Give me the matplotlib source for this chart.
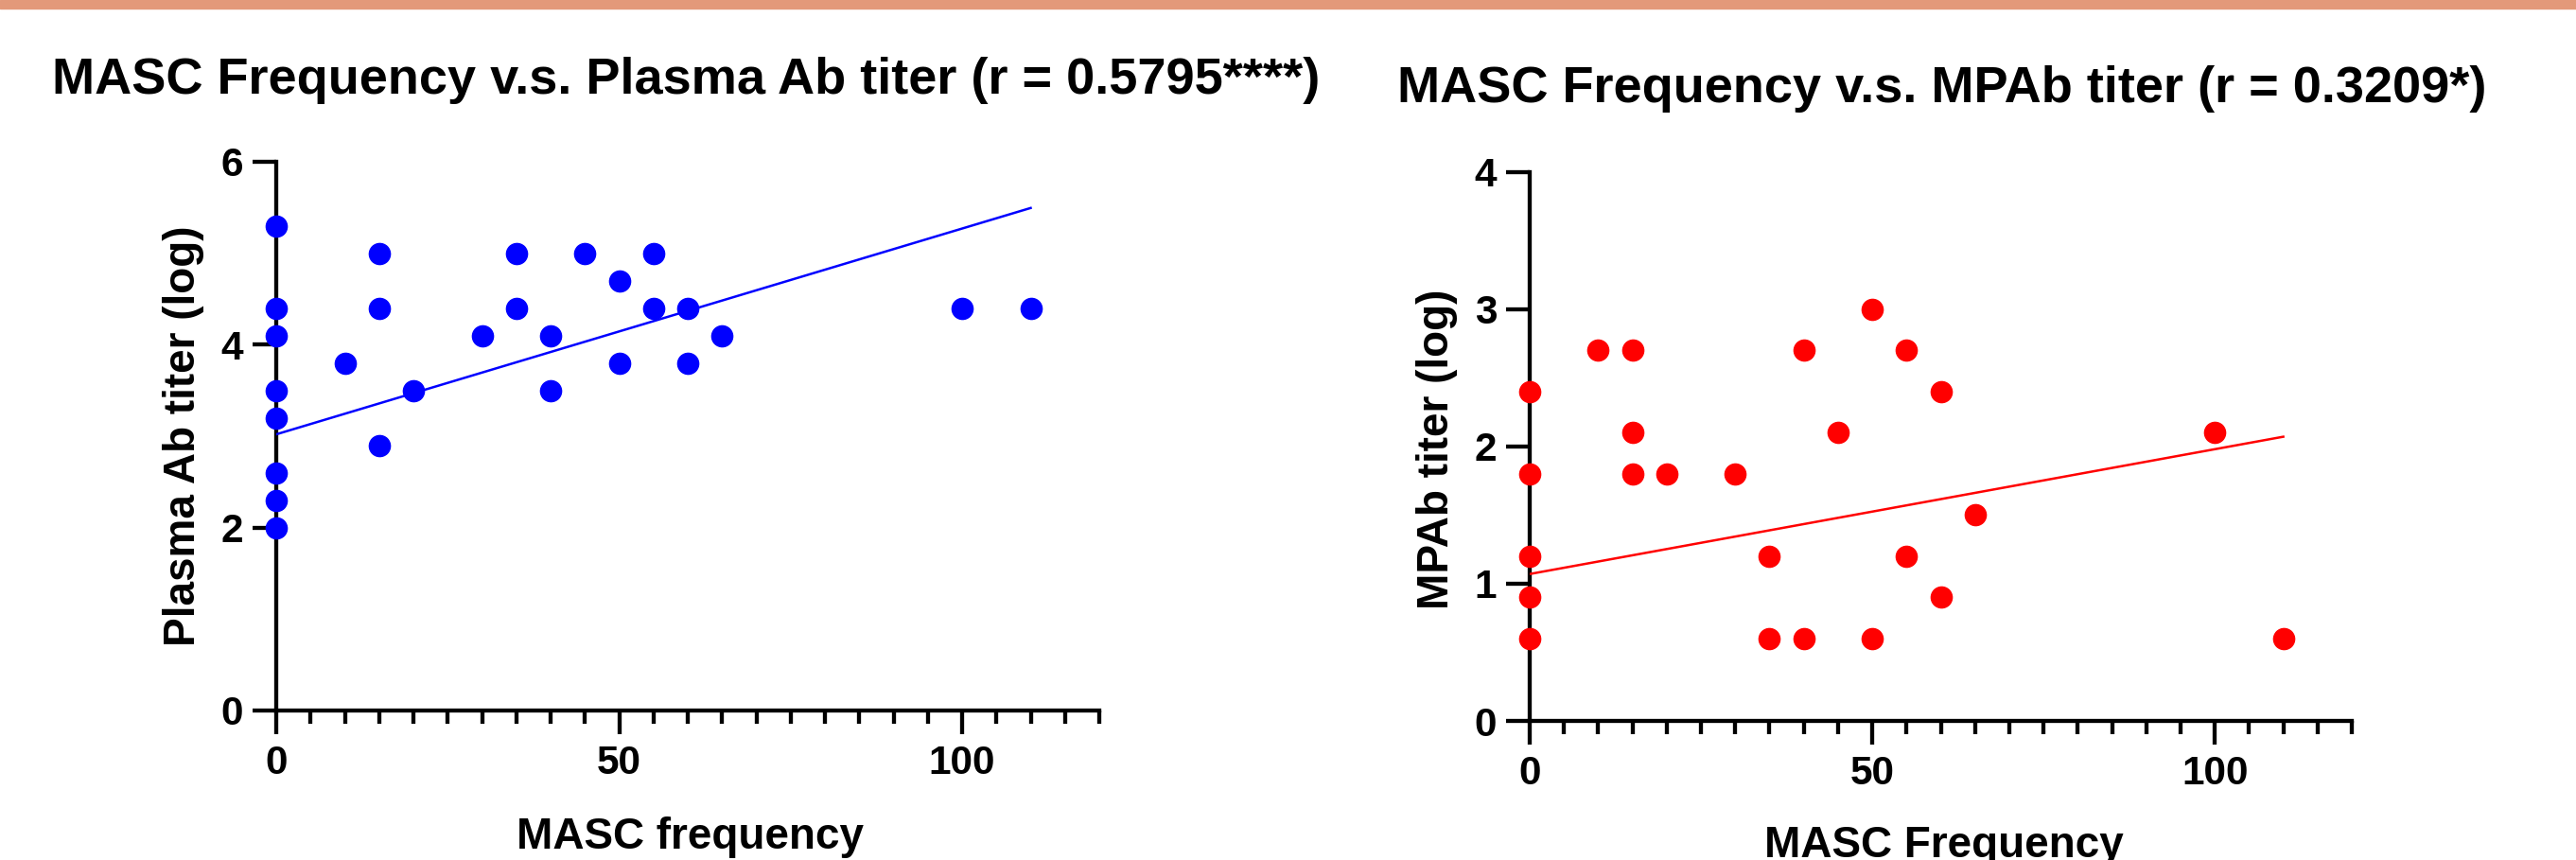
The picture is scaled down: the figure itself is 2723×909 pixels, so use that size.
import matplotlib.pyplot as plt
import numpy as np
from matplotlib.patches import Rectangle

plt.rcParams['font.family'] = ['Liberation Sans', 'DejaVu Sans']
plt.rcParams['font.weight'] = 'bold'

# left panel: MASC frequency vs plasma Ab titer
masc_left = [0, 0, 0, 0, 0, 0, 0, 0, 10, 15, 15, 15, 20, 30, 35, 35, 40, 40,
             45, 50, 50, 55, 55, 60, 60, 65, 100, 110]
plasma_ab = [5.3, 4.4, 4.1, 3.5, 3.2, 2.6, 2.3, 2.0, 3.8, 5.0, 4.4, 2.9, 3.5, 4.1,
             5.0, 4.4, 4.1, 3.5, 5.0, 4.7, 3.8, 5.0, 4.4, 4.4, 3.8, 4.1, 4.4, 4.4]
fit_left = (3.02, 0.0225)   # intercept, slope as drawn

# right panel: MASC frequency vs MPAb titer
masc_right = [0, 0, 0, 0, 0, 10, 15, 15, 15, 20, 30, 35, 35, 40, 40, 45, 50, 50,
              55, 55, 60, 60, 65, 100, 110]
mpab = [2.4, 1.8, 1.2, 0.9, 0.6, 2.7, 2.7, 2.1, 1.8, 1.8, 1.8, 1.2, 0.6, 2.7, 0.6,
        2.1, 3.0, 0.6, 2.7, 1.2, 2.4, 0.9, 1.5, 2.1, 0.6]
fit_right = (1.07, 0.00909)

titles = ["MASC Frequency v.s. Plasma Ab titer (r = 0.5795****)",
          "MASC Frequency v.s. MPAb titer (r = 0.3209*)"]
xlabels = ["MASC frequency", "MASC Frequency"]
ylabels = ["Plasma Ab titer (log)", "MPAb titer (log)"]
yticks_left = [0, 2, 4, 6]
yticks_right = [0, 1, 2, 3, 4]

W, H = 2723, 909
fig = plt.figure(figsize=(W / 100, H / 100), dpi=100)

# orange band at the top
fig.patches.append(Rectangle((0, 1 - 9 / H), 1, 9 / H, transform=fig.transFigure,
                             color='#E3997A', zorder=0))


def px_axes(x0, x1, ytop, ybot):
    return fig.add_axes([x0 / W, 1 - ybot / H, (x1 - x0) / W, (ybot - ytop) / H])


def style(ax, xs, ys, fit, color, yticks, xlabel, ylabel, ylab_y):
    ax.plot(xs, ys, 'o', color=color, markersize=16, clip_on=False, zorder=5)
    xx = np.array([0, max(xs)])
    ax.plot(xx, fit[0] + fit[1] * xx, color=color, lw=1.8, zorder=4)
    ax.set_xlim(0, 120)
    ax.set_ylim(yticks[0], yticks[-1])
    ax.set_xticks([0, 50, 100])
    ax.set_xticks(np.arange(0, 121, 5), minor=True)
    ax.set_yticks(yticks)
    for s in ['top', 'right']:
        ax.spines[s].set_visible(False)
    for s in ['left', 'bottom']:
        ax.spines[s].set_linewidth(3.1)
    ax.tick_params(which='major', length=18, width=3.1, labelsize=30.5, pad=7)
    ax.tick_params(which='minor', length=10, width=3.1)
    ax.tick_params(axis='x', which='major', pad=8)
    for lab in ax.get_xticklabels() + ax.get_yticklabels():
        lab.set_fontweight('bold')
    ax.set_xlabel(xlabel, fontsize=33, fontweight='bold', va='baseline')
    ax.set_ylabel(ylabel, fontsize=33, fontweight='bold', va='center')
    ax.yaxis.set_label_coords(-0.1127, ylab_y)


ax1 = px_axes(292, 1162, 171, 751)
style(ax1, masc_left, plasma_ab, fit_left, '#0000FF', yticks_left,
      xlabels[0], ylabels[0], 0.5)
ax1.xaxis.set_label_coords(0.503, -0.2517)

ax2 = px_axes(1617, 2486, 181.5, 762)
style(ax2, masc_right, mpab, fit_right, '#FF0000', yticks_right,
      xlabels[1], ylabels[1], 0.494)
ax2.xaxis.set_label_coords(0.504, -0.248)

fig.text(725.5 / W, 1 - 99 / H, titles[0], fontsize=39, fontweight='bold',
         ha='center', va='baseline')
fig.text(2053 / W, 1 - 108 / H, titles[1], fontsize=39, fontweight='bold',
         ha='center', va='baseline')

fig.savefig('out.png', dpi=100)
